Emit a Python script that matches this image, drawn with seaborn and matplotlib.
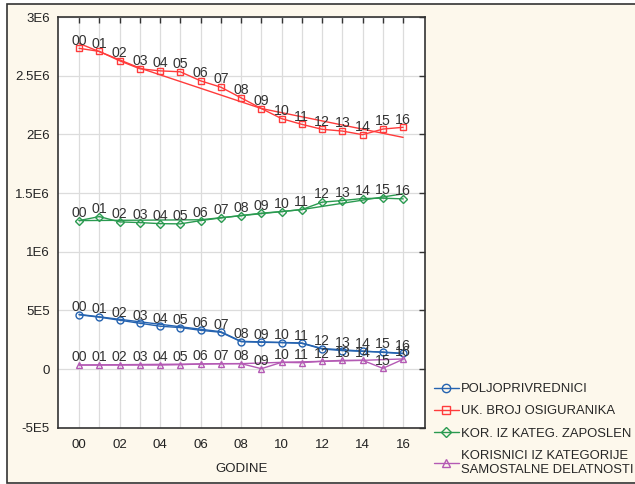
import numpy as np
import pandas as pd
import matplotlib
matplotlib.use("Agg")
import matplotlib.pyplot as plt
import seaborn as sns
from matplotlib.patches import Rectangle
from matplotlib.lines import Line2D

years = list(range(0, 17))
year_labels = ["00", "01", "02", "03", "04", "05", "06", "07", "08", "09",
               "10", "11", "12", "13", "14", "15", "16"]

poljoprivrednici = [462000, 442000, 416000, 390000, 365000, 353000, 330000, 313000,
                    233000, 228000, 225000, 219000, 171000, 157000, 151000, 145000, 134000]
uk_broj = [2733000, 2707000, 2627000, 2559000, 2541000, 2533000, 2456000, 2402000,
           2311000, 2220000, 2134000, 2085000, 2043000, 2028000, 1997000, 2045000, 2060000]
kor_zaposlen = [1265000, 1299000, 1254000, 1248000, 1239000, 1237000, 1265000, 1288000,
                1308000, 1328000, 1342000, 1359000, 1422000, 1436000, 1453000, 1456000, 1450000]
kor_samostalne = [34000, 34000, 34000, 34000, 34000, 37000, 43000, 46000,
                  46000, 3000, 57000, 54000, 66000, 74000, 74000, 6000, 83000]

# smoothed trend lines (no markers), read at their bend points
trend_polj_x = [0, 7, 8, 11, 12, 16]
trend_polj_y = [466000, 318000, 236000, 222000, 175000, 131000]
trend_uk_x = [0, 3, 9, 16]
trend_uk_y = [2775000, 2565000, 2220000, 1974000]
trend_zap_x = [0, 6, 11, 16]
trend_zap_y = [1265000, 1272000, 1359000, 1493000]
trend_sam_x = [0, 8, 10, 14, 16]
trend_sam_y = [34000, 46000, 57000, 74000, 86000]

series_names = ["POLJOPRIVREDNICI", "UK. BROJ OSIGURANIKA", "KOR. IZ KATEG. ZAPOSLEN",
                "KORISNICI IZ KATEGORIJE\nSAMOSTALNE DELATNOSTI"]
series_values = [poljoprivrednici, uk_broj, kor_zaposlen, kor_samostalne]
trend_xs = [trend_polj_x, trend_uk_x, trend_zap_x, trend_sam_x]
trend_ys = [trend_polj_y, trend_uk_y, trend_zap_y, trend_sam_y]
series_colors = ["#2563B0", "#FF3B3B", "#2A9A50", "#B45AB4"]
series_markers = ["o", "s", "D", "^"]
series_msize = [5, 5, 3.6, 5]

ytick_vals = [-500000, 0, 500000, 1000000, 1500000, 2000000, 2500000, 3000000]
ytick_labels = ["-5E5", "0", "5E5", "1E6", "1.5E6", "2E6", "2.5E6", "3E6"]

sns.set_style("white")
plt.rcParams['font.family'] = ['Liberation Sans', 'DejaVu Sans']

fig = plt.figure(figsize=(6.35, 4.84), dpi=100)
fig.patch.set_facecolor("white")
fig.patches.append(Rectangle((7 / 635, 1 - 482.5 / 484), 1.0, (482.5 - 4) / 484,
                             transform=fig.transFigure, facecolor="#FDF8EC",
                             edgecolor="#333333", linewidth=1.2, zorder=-10))

ax = fig.add_axes([58 / 635, 1 - 427.7 / 484, (425 - 58) / 635, (427.7 - 17) / 484])
ax.set_zorder(2)
ax.set_facecolor("white")

handles = []
for vals, tx, ty, col, mk, ms in zip(series_values, trend_xs, trend_ys, series_colors,
                                     series_markers, series_msize):
    tdf = pd.DataFrame({"x": tx, "y": ty})
    sns.lineplot(data=tdf, x="x", y="y", ax=ax, color=col, lw=1.0)
    df = pd.DataFrame({"x": years, "y": vals})
    sns.lineplot(data=df, x="x", y="y", ax=ax, color=col, lw=1.0, marker=mk,
                 markersize=ms, markerfacecolor="none", markeredgecolor=col,
                 markeredgewidth=1.0)
    for xi, yi, lab in zip(years, vals, year_labels):
        ax.annotate(lab, (xi, yi), xytext=(0, 0.5), textcoords="offset points",
                    ha="center", va="bottom", fontsize=10.2, color="#333333")
    handles.append(Line2D([], [], color=col, lw=1.0, marker=mk, markersize=ms + 1,
                          markerfacecolor="none", markeredgecolor=col))

ax.set_xlim(-1.04, 17.08)
ax.set_ylim(-500000, 3000000)
ax.set_xticks(years)
ax.set_xticklabels([l if i % 2 == 0 else "" for i, l in enumerate(year_labels)])
ax.set_yticks(ytick_vals)
ax.set_yticklabels(ytick_labels)
ax.tick_params(direction="in", length=4, width=1, color="#333333",
               top=True, right=True, labelsize=9.5, labelcolor="#222222", pad=6)
ax.tick_params(axis="x", pad=8)
ax.grid(True, color="#DCDCDC", lw=0.9)
ax.set_axisbelow(True)
for s in ax.spines.values():
    s.set_visible(True)
    s.set_color("#333333")
    s.set_linewidth(1.2)
ax.set_xlabel("GODINE", fontsize=9.5, color="#222222", labelpad=9)
ax.set_ylabel("")

fig.legend(handles, series_names, loc="upper left",
           bbox_to_anchor=(434 / 635, 1 - 383 / 484), frameon=False,
           fontsize=9.4, handlelength=1.9, handletextpad=0.15, labelspacing=0.78,
           borderaxespad=0, borderpad=0)

fig.savefig("out.png", dpi=100)
